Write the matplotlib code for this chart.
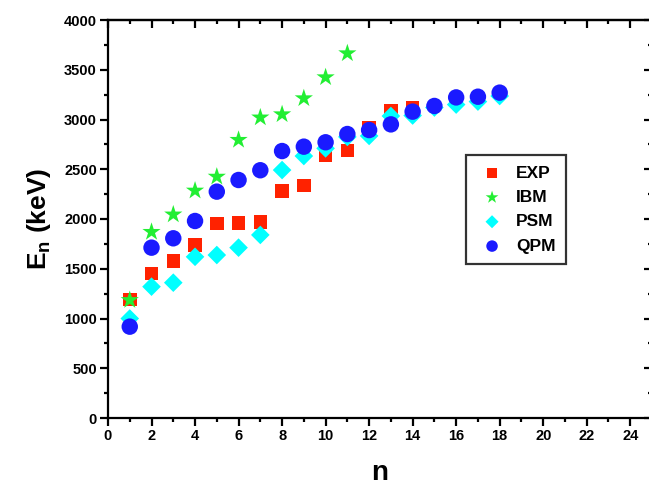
import numpy as np
import matplotlib
matplotlib.use("Agg")
import matplotlib.pyplot as plt
from matplotlib.ticker import MultipleLocator

plt.rcParams['font.family'] = 'Liberation Sans'
plt.rcParams['font.weight'] = 'bold'
plt.rcParams['mathtext.fontset'] = 'custom'
plt.rcParams['mathtext.rm'] = 'Liberation Sans:bold'
plt.rcParams['mathtext.bf'] = 'Liberation Sans:bold'
plt.rcParams['mathtext.default'] = 'bf'

# level energies (keV) vs n
n_exp = [1, 2, 3, 4, 5, 6, 7, 8, 9, 10, 11, 12, 13, 14]
e_exp = [1190, 1450, 1580, 1740, 1955, 1960, 1970, 2280, 2335, 2640, 2690, 2915, 3085, 3120]

n_ibm = [1, 2, 3, 4, 5, 6, 7, 8, 9, 10, 11]
e_ibm = [1185, 1870, 2045, 2285, 2425, 2795, 3020, 3052, 3213, 3424, 3665]

n_psm = [1, 2, 3, 4, 5, 6, 7, 8, 9, 10, 11, 12, 13, 14, 15, 16, 17, 18]
e_psm = [1000, 1320, 1360, 1620, 1638, 1712, 1840, 2492, 2633, 2710, 2825, 2835, 3035, 3040, 3120, 3150, 3180, 3236]

n_qpm = [1, 2, 3, 4, 5, 6, 7, 8, 9, 10, 11, 12, 13, 14, 15, 16, 17, 18]
e_qpm = [918, 1712, 1806, 1980, 2275, 2392, 2490, 2683, 2727, 2771, 2854, 2894, 2951, 3079, 3136, 3222, 3229, 3270]

fig = plt.figure(figsize=(6.49, 4.87), dpi=100)
ax = fig.add_axes([108/649, 69/487, 544/649, 398/487])

ax.scatter(n_exp, e_exp, marker='s', s=95, color='#ff2200', edgecolors='none', label='EXP', zorder=3)
ax.scatter(n_ibm, e_ibm, marker='*', s=190, color='#22ee33', edgecolors='none', label='IBM', zorder=3)
ax.scatter(n_psm, e_psm, marker='D', s=90, color='#00ffff', edgecolors='none', label='PSM', zorder=3)
ax.scatter(n_qpm, e_qpm, marker='o', s=140, color='#1a1aff', edgecolors='none', label='QPM', zorder=3)

ax.set_xlim(0, 25)
ax.set_ylim(0, 4000)
ax.xaxis.set_major_locator(MultipleLocator(2))
ax.xaxis.set_minor_locator(MultipleLocator(1))
ax.yaxis.set_major_locator(MultipleLocator(500))
ax.yaxis.set_minor_locator(MultipleLocator(250))

for s in ax.spines.values():
    s.set_linewidth(1.6)

ax.tick_params(which='major', direction='out', length=6, width=1.6, labelsize=10.5, pad=2)
ax.tick_params(which='minor', direction='out', length=3, width=1.6)
# mirrored ticks on top/right point inward
sec_x = ax.secondary_xaxis('top')
sec_x.xaxis.set_major_locator(MultipleLocator(2))
sec_x.xaxis.set_minor_locator(MultipleLocator(1))
sec_x.tick_params(which='major', direction='in', length=6, width=1.6, labeltop=False)
sec_x.tick_params(which='minor', direction='in', length=3, width=1.6)
sec_x.spines['top'].set_linewidth(1.6)
sec_y = ax.secondary_yaxis('right')
sec_y.yaxis.set_major_locator(MultipleLocator(500))
sec_y.yaxis.set_minor_locator(MultipleLocator(250))
sec_y.tick_params(which='major', direction='in', length=6, width=1.6, labelright=False)
sec_y.tick_params(which='minor', direction='in', length=3, width=1.6)

ax.set_xlabel('n', fontsize=20, fontweight='bold', labelpad=12)
ax.set_ylabel(r'E$_\mathbf{n}$ (keV)', fontsize=19, fontweight='bold', labelpad=8)

leg = ax.legend(loc='upper left', bbox_to_anchor=(358/544, (418-155)/398), fontsize=12.5,
                frameon=True, fancybox=False, edgecolor='black', borderpad=0.6, borderaxespad=0,
                handletextpad=0.5, handlelength=1.8, labelspacing=0.53, scatterpoints=1,
                markerscale=0.7)
leg.get_frame().set_linewidth(1.6)

plt.savefig('out.png', dpi=100)
